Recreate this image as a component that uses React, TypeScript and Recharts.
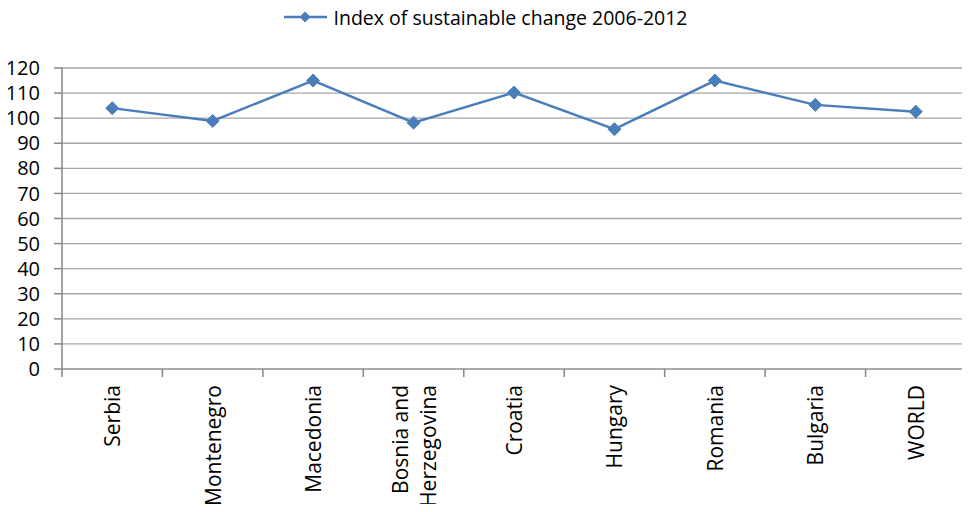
import React from "react";
import { LineChart, Line, XAxis, YAxis, CartesianGrid, Legend } from "recharts";

// Countries on the category axis (a "\n" splits a label onto two lines)
const countries = [
  "Serbia",
  "Montenegro",
  "Macedonia",
  "Bosnia and\nHerzegovina",
  "Croatia",
  "Hungary",
  "Romania",
  "Bulgaria",
  "WORLD",
];

// Index of sustainable change 2006-2012, one value per country
const indexValues = [104, 98.9, 115, 98.2, 110.2, 95.6, 115, 105.3, 102.6];

// Value-axis ticks
const yTicks = [0, 10, 20, 30, 40, 50, 60, 70, 80, 90, 100, 110, 120];

const seriesName = "Index of sustainable change 2006-2012";

const data = countries.map((c, i) => ({ country: c, value: indexValues[i] }));

const W = 970;
const H = 512;
const LEGEND_H = 24;
const MARGIN = { top: 68 - LEGEND_H, right: 4, left: 0, bottom: 0 };
const Y_AXIS_W = 62;
const X_AXIS_H = 143;
const LINE_COLOR = "#4a7ebb";
const AXIS_COLOR = "#868686";
const GRID_COLOR = "#a6a6a6";
const FONT = "'Open Sans', 'DejaVu Sans', sans-serif";

const plotWidth = W - MARGIN.left - MARGIN.right - Y_AXIS_W;
const halfStep = plotWidth / countries.length / 2;

const Diamond = (props: any) => {
  const { cx, cy } = props;
  if (cx == null || cy == null) return null;
  const s = 6.5;
  return (
    <polygon
      points={`${cx},${cy - s} ${cx + s},${cy} ${cx},${cy + s} ${cx - s},${cy}`}
      fill={LINE_COLOR}
      stroke={LINE_COLOR}
      strokeWidth={1}
    />
  );
};

const CountryTick = (props: any) => {
  const { x, y, payload, index } = props;
  const lines = String(payload.value).split("\n");
  const top = y + 16;
  return (
    <g>
      {index === 0 && (
        <line x1={x - halfStep} y1={y} x2={x - halfStep} y2={y + 8} stroke={AXIS_COLOR} strokeWidth={1.5} />
      )}
      <line x1={x + halfStep} y1={y} x2={x + halfStep} y2={y + 8} stroke={AXIS_COLOR} strokeWidth={1.5} />
      {lines.map((ln, i) => {
        const cx = x + (i - (lines.length - 1) / 2) * 28;
        return (
          <text
            key={i}
            x={cx}
            y={top}
            transform={`rotate(-90, ${cx}, ${top})`}
            textAnchor="end"
            dominantBaseline="central"
            fontFamily={FONT}
            fontSize={21}
            fill="#000"
          >
            {ln}
          </text>
        );
      })}
    </g>
  );
};

const LegendContent = () => (
  <div
    style={{
      display: "flex",
      justifyContent: "center",
      alignItems: "center",
      height: LEGEND_H,
      fontFamily: FONT,
      fontSize: 19.5,
      color: "#000",
      paddingLeft: 0,
    }}
  >
    <svg width={46} height={20} style={{ marginRight: 5 }}>
      <line x1={1} y1={10} x2={44} y2={10} stroke={LINE_COLOR} strokeWidth={2.5} />
      <polygon points="22,4.5 27.5,10 22,15.5 16.5,10" fill={LINE_COLOR} />
    </svg>
    <span>{seriesName}</span>
  </div>
);

export default function App() {
  return (
    <div style={{ margin: -8, width: W, height: H, background: "#fff" }}>
      <LineChart width={W} height={H} data={data} margin={MARGIN}>
        <CartesianGrid vertical={false} stroke={GRID_COLOR} strokeWidth={1.3} />
        <XAxis
          dataKey="country"
          height={X_AXIS_H}
          interval={0}
          padding={{ left: halfStep, right: halfStep }}
          tickLine={false}
          tickSize={0}
          tickMargin={0}
          axisLine={{ stroke: GRID_COLOR, strokeWidth: 1.3 }}
          tick={<CountryTick />}
        />
        <YAxis
          width={Y_AXIS_W}
          domain={[0, 120]}
          ticks={yTicks}
          interval={0}
          tickSize={8}
          tickMargin={14}
          tickLine={{ stroke: AXIS_COLOR, strokeWidth: 1.5 }}
          axisLine={{ stroke: AXIS_COLOR, strokeWidth: 1.5 }}
          tick={{ fill: "#000", fontSize: 20, fontFamily: FONT }}
        />
        <Legend
          verticalAlign="top"
          align="center"
          height={LEGEND_H}
          content={<LegendContent />}
          wrapperStyle={{ top: 5, left: 0, width: W }}
        />
        <Line
          type="linear"
          dataKey="value"
          name={seriesName}
          stroke={LINE_COLOR}
          strokeWidth={2.5}
          dot={<Diamond />}
          activeDot={false}
          isAnimationActive={false}
        />
      </LineChart>
    </div>
  );
}
